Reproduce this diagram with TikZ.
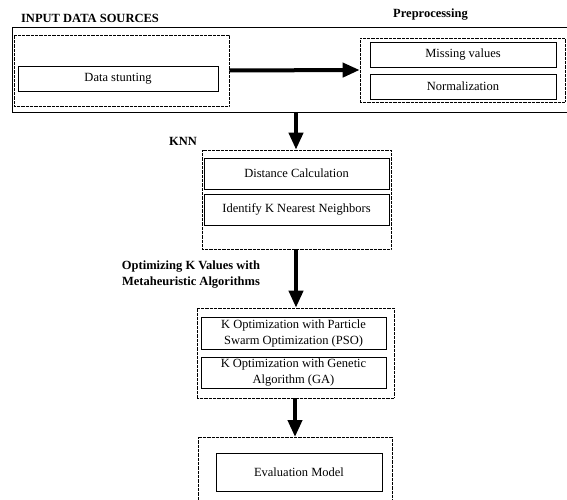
\documentclass[tikz,border=0pt]{standalone}
\usepackage{fontspec}
\setmainfont{Liberation Serif}
\usetikzlibrary{arrows.meta}
\begin{document}
\begin{tikzpicture}[x=1pt,y=-1pt,
  txt/.style={font=\fontsize{12.5}{16}\selectfont, align=center, inner sep=0pt},
  lbl/.style={font=\fontsize{12.5}{16}\selectfont\bfseries, align=center, inner sep=0pt},
  solidbox/.style={txt, draw, line width=0.9pt, minimum width=#1},
  dotbox/.style={draw, line width=0.7pt, dash pattern=on 0.7pt off 0.6pt, inner sep=0pt, minimum width=#1},
  bigarrow/.style={line width=4pt, -{Triangle[length=17pt,width=14pt]}}
]
\useasboundingbox (0,0) rectangle (567,500);

% outer frame (right side runs off the picture)
\draw[line width=0.9pt] (567,27) -- (12,27) -- (12,112) -- (567,112);
\coordinate (outbot) at (296,112);

% labels
\node[lbl] (lin) at (90,18) {INPUT DATA SOURCES};
\node[lbl] (lpre) at (430.5,15) {Preprocessing};
\node[lbl] (lknn) at (183,141) {KNN};
\node[lbl] (lopt) at (191,275) {Optimizing K Values with\\Metaheuristic Algorithms};

% input group
\node[dotbox=215pt, minimum height=71pt] (src) at (121.5,70.5) {};
\node[solidbox=200pt, minimum height=25pt] (ds) at (118,78.5) {Data stunting};

% preprocessing group
\node[dotbox=205pt, minimum height=64pt] (pre) at (462.5,70) {};
\node[solidbox=186pt, minimum height=25pt] (mv) at (463,54.5) {Missing values};
\node[solidbox=186pt, minimum height=25pt] (nm) at (463,86.5) {Normalization};

% KNN group
\node[dotbox=189pt, minimum height=99pt] (knn) at (296.5,199.5) {};
\node[solidbox=185pt, minimum height=31pt] (dc) at (296.5,173.5) {Distance Calculation};
\node[solidbox=185pt, minimum height=31pt] (ik) at (296.5,209.5) {Identify K Nearest Neighbors};

% optimisation group
\node[dotbox=197pt, minimum height=90pt] (opt) at (295.5,353) {};
\node[solidbox=185pt, minimum height=32pt] (pso) at (293.5,333) {K Optimization with Particle\\Swarm Optimization (PSO)};
\node[solidbox=185pt, minimum height=31pt] (ga) at (293.5,372.5) {K Optimization with Genetic\\Algorithm (GA)};

% evaluation group (bottom runs off the picture)
\draw[line width=0.7pt, dash pattern=on 0.7pt off 0.6pt] (198,500) -- (198,437) -- (392,437) -- (392,500);
\coordinate (evtop) at (295,437);
\node[solidbox=166pt, minimum height=38pt] (ev) at (299,472) {Evaluation Model};

% connectors
\draw[bigarrow] (src.east) -- (pre.west);
\draw[bigarrow] (outbot) -- (outbot |- knn.north);
\draw[bigarrow] (knn.south -| outbot) -- (outbot |- opt.north);
\draw[bigarrow] (opt.south -| evtop) -- (evtop);
\end{tikzpicture}
\end{document}
